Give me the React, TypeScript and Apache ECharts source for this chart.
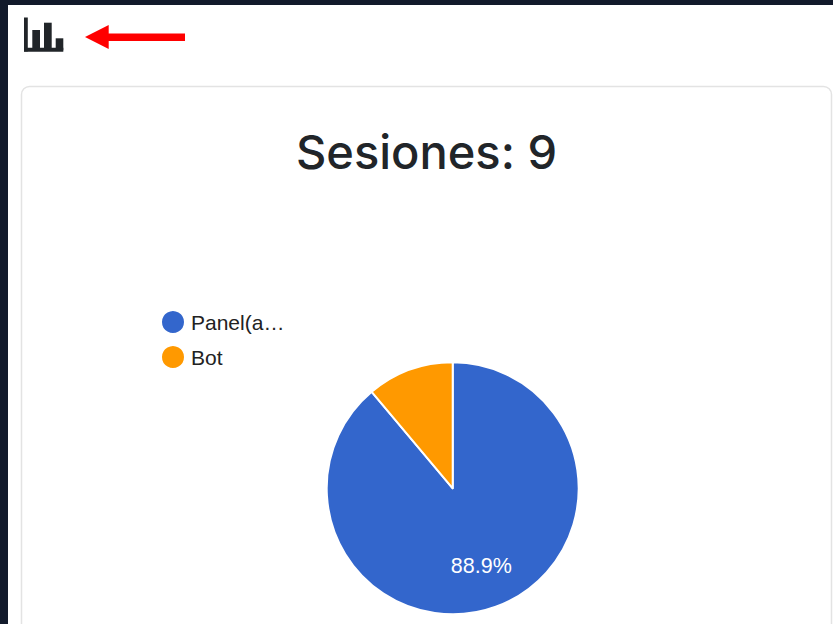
import React, { useEffect, useRef } from "react";
import * as echarts from "echarts";

const categories = ["Panel(a…", "Bot"];
const sessionCounts = [8, 1];
const sliceColors = ["#3366cc", "#ff9900"];
const titleText = "Sesiones: 9";

// Bar-chart glyph above the card: [x, top, width, height]
const iconBars = [
  [24, 17.5, 3.8, 34],
  [24, 47.8, 39.3, 3.9],
  [32.3, 30, 7.7, 20],
  [44, 22.7, 7.7, 27],
  [55.7, 38.3, 7.6, 12],
];

export default function App() {
  const ref = useRef<HTMLDivElement>(null);

  useEffect(() => {
    const chart = echarts.init(ref.current!, undefined, { renderer: "svg" });
    chart.setOption({
      animation: false,
      backgroundColor: "#121a2b",
      color: sliceColors,
      title: {
        text: titleText,
        left: 421.5,
        top: 123,
        textAlign: "center",
        textStyle: { fontFamily: "Inter", fontSize: 47, fontWeight: 500, color: "#212529" },
      },
      legend: {
        orient: "vertical",
        left: 160,
        top: 309,
        padding: 0,
        icon: "circle",
        itemWidth: 24,
        itemHeight: 24,
        itemGap: 9,
        selectedMode: false,
        textStyle: { fontFamily: "Liberation Sans", fontSize: 21, color: "#222222", padding: [0, 0, 0, 1] },
      },
      graphic: [
        { type: "rect", shape: { x: 8, y: 5, width: 825, height: 619 }, style: { fill: "#ffffff" }, silent: true },
        {
          type: "rect",
          shape: { x: 21.5, y: 86.5, width: 810, height: 600, r: 8 },
          style: { fill: "#ffffff", stroke: "#e3e3e3", lineWidth: 1.5 },
          silent: true,
        },
        ...iconBars.map(([x, y, width, height]) => ({
          type: "rect",
          shape: { x, y, width, height },
          style: { fill: "#212529" },
          silent: true,
        })),
        {
          type: "polygon",
          shape: {
            points: [[85, 37], [108.7, 25], [108.7, 33.5], [185, 33.5], [185, 41], [108.7, 41], [108.7, 49]],
          },
          style: { fill: "#ff0000" },
          silent: true,
        },
      ],
      series: [
        {
          type: "pie",
          center: [452.7, 488.3],
          radius: [0, 126],
          startAngle: 90,
          clockwise: true,
          percentPrecision: 1,
          itemStyle: { borderColor: "#ffffff", borderWidth: 2 },
          emphasis: { disabled: true },
          labelLine: { show: false },
          label: {
            position: "inside",
            formatter: "{d}%",
            fontFamily: "Liberation Sans",
            fontSize: 21.5,
            color: "#ffffff",
          },
          labelLayout: { dx: 6, dy: 15.5 },
          data: categories.map((name, i) => ({
            name,
            value: sessionCounts[i],
            label: { show: i === 0 },
          })),
        },
      ],
    });
    return () => chart.dispose();
  }, []);

  return <div ref={ref} style={{ position: "fixed", left: 0, top: 0, width: 833, height: 624 }} />;
}
